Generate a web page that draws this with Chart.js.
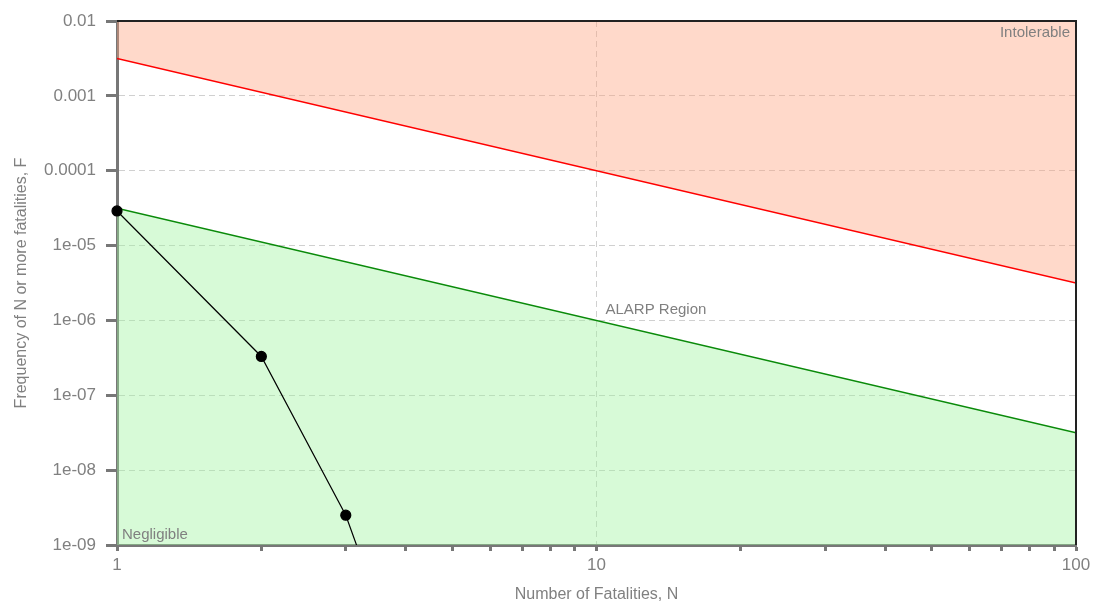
<!DOCTYPE html>
<html>
<head>
<meta charset="utf-8">
<script src="https://cdn.jsdelivr.net/npm/chart.js@4"></script>
<style>
  body { margin: 0; background: #fff; }
</style>
</head>
<body>
<canvas id="fnChart" width="1099" height="604"></canvas>
<script>
// F-N curve data
var fatalities = [1, 2, 3, 4];
var frequency = [2.9e-5, 3.3e-7, 2.5e-9, 1.5e-11];
// criterion lines
var criterionN = [1, 100];
var intolerable = [3.16e-3, 3.16e-6];
var negligible = [3.16e-5, 3.16e-8];
// tick labels
var xTicks = [1, 2, 3, 4, 5, 6, 7, 8, 9, 10, 20, 30, 40, 50, 60, 70, 80, 90, 100];
var xLabels = { 1: "1", 10: "10", 100: "100" };
var yTicks = [1e-2, 1e-3, 1e-4, 1e-5, 1e-6, 1e-7, 1e-8, 1e-9];
var yLabels = ["0.01", "0.001", "0.0001", "1e-05", "1e-06", "1e-07", "1e-08", "1e-09"];

function pts(xs, ys) {
  return xs.map(function (x, i) { return { x: x, y: ys[i] }; });
}

var grey = "#808080";
var font = "'Liberation Sans', Arial, sans-serif";

var regionText = {
  id: "regionText",
  afterDraw: function (chart) {
    var c = chart.ctx, a = chart.chartArea;
    c.save();
    // frame top and right
    c.strokeStyle = "#222";
    c.lineWidth = 2;
    c.beginPath();
    c.moveTo(a.left, a.top);
    c.lineTo(a.right, a.top);
    c.lineTo(a.right, a.bottom);
    c.stroke();
    c.fillStyle = grey;
    c.font = "15px " + font;
    c.textBaseline = "alphabetic";
    c.textAlign = "right";
    c.fillText("Intolerable", a.right - 6, a.top + 16);
    c.textAlign = "left";
    c.fillText("ALARP Region", chart.scales.x.getPixelForValue(10) + 9, chart.scales.y.getPixelForValue(1e-6) - 6);
    c.fillText("Negligible", a.left + 5, a.bottom - 6);
    c.restore();
  }
};

var ctx = document.getElementById("fnChart");
var myChart = new Chart(ctx, {
  type: "line",
  data: {
    datasets: [
      {
        data: pts(criterionN, intolerable),
        borderColor: "#ff0000",
        backgroundColor: "rgba(255,160,122,0.4)",
        borderWidth: 1.5,
        pointRadius: 0,
        fill: "end",
        order: 2
      },
      {
        data: pts(criterionN, negligible),
        borderColor: "#0a8a0a",
        backgroundColor: "rgba(155,242,155,0.4)",
        borderWidth: 1.5,
        pointRadius: 0,
        fill: "start",
        order: 1
      },
      {
        data: pts(fatalities, frequency),
        borderColor: "#000",
        backgroundColor: "#000",
        borderWidth: 1.2,
        pointRadius: [5, 5, 5, 0],
        pointHoverRadius: 5,
        fill: false,
        clip: { left: 8, top: 0, right: 0, bottom: 0 },
        order: 0
      }
    ]
  },
  options: {
    responsive: false,
    animation: false,
    layout: { padding: { left: 0, right: 23, top: 21, bottom: 0 } },
    plugins: {
      legend: { display: false },
      tooltip: { enabled: false }
    },
    scales: {
      x: {
        type: "logarithmic",
        min: 1,
        max: 100,
        afterBuildTicks: function (s) {
          s.ticks = xTicks.map(function (v) { return { value: v }; });
        },
        afterFit: function (s) { s.height = 59; },
        ticks: {
          autoSkip: false,
          maxRotation: 0,
          color: grey,
          font: { family: font, size: 17 },
          padding: 4,
          callback: function (v) { return xLabels[v] || ""; }
        },
        grid: {
          tickLength: 6,
          tickWidth: 3,
          tickColor: "#777",
          color: function (c) {
            return c.tick && c.tick.value === 10 ? "#d0d0d0" : "transparent";
          }
        },
        border: { color: "#777", width: 3, dash: [6, 4] },
        title: {
          display: true,
          text: "Number of Fatalities, N",
          color: grey,
          font: { family: font, size: 16 },
          padding: { top: 0, bottom: 0 }
        }
      },
      y: {
        type: "logarithmic",
        min: 1e-9,
        max: 1e-2,
        afterBuildTicks: function (s) {
          s.ticks = yTicks.map(function (v) { return { value: v }; });
        },
        afterFit: function (s) { s.width = 117; },
        ticks: {
          autoSkip: false,
          color: grey,
          font: { family: font, size: 17 },
          padding: 10,
          callback: function (v, i) { return yLabels[i]; }
        },
        grid: {
          tickLength: 11,
          tickWidth: 3,
          tickColor: "#777",
          color: function (c) {
            var v = c.tick && c.tick.value;
            return (v === 1e-2 || v === 1e-9) ? "transparent" : "#d0d0d0";
          }
        },
        border: { color: "#777", width: 3, dash: [6, 4] },
        title: {
          display: true,
          text: "Frequency of N or more fatalities, F",
          color: grey,
          font: { family: font, size: 16 },
          padding: { top: 12, bottom: 4 }
        }
      }
    }
  },
  plugins: [regionText]
});
</script>
</body>
</html>
